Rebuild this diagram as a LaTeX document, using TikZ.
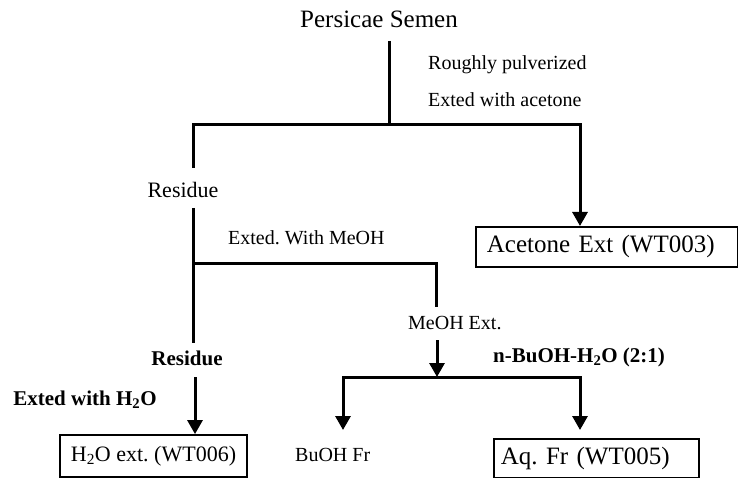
\documentclass[tikz,border=0pt]{standalone}
\usepackage{fontspec}
\setmainfont{Liberation Serif}
\usetikzlibrary{arrows.meta}
\frenchspacing
\begin{document}
\begin{tikzpicture}[x=1pt,y=-1pt,
  line/.style={line width=3pt},
  arr/.style={line width=3pt,-{Triangle[width=15pt,length=14pt]}},
  lbl/.style={inner sep=0pt,font=\fontsize{20}{24}\selectfont},
  blbl/.style={inner sep=0pt,font=\fontsize{21}{25}\selectfont\bfseries},
  boxnode/.style={draw,line width=1.8pt,inner sep=0pt}]
\useasboundingbox (0,0) rectangle (738,478);

% top
\node[inner sep=0pt,font=\fontsize{25}{30}\selectfont] (title) at (379,19) {Persicae Semen};
\coordinate (t0) at (389,41);
\coordinate (j1) at (389,125);
\coordinate (l1) at (193,125);
\coordinate (r1) at (580,125);
\node[lbl,anchor=west] (rp) at (428,65) {Roughly pulverized};
\node[lbl,anchor=west] (ea) at (428,100) {Exted with acetone};
\draw[line] (t0) -- (j1);
\draw[line,line cap=rect] (l1) -- (r1);

% acetone box
\node[boxnode,anchor=north west,minimum width=262pt,minimum height=40pt,
      text width=240pt,inner xsep=11pt,align=left,
      font=\fontsize{25}{30}\selectfont] (ace) at (475,226) {Acetone Ext (WT003)};
\draw[arr] (r1) -- (ace.north -| r1);

% residue 1
\node[inner sep=0pt,font=\fontsize{22}{26}\selectfont] (res1) at (183,190) {Residue};
\coordinate (l1b) at (193,168);
\coordinate (l2a) at (193,208);
\coordinate (l2b) at (193,343);
\draw[line] (l1) -- (l1b);
\draw[line] (l2a) -- (l2b);
\node[lbl,anchor=west] (em) at (228,238) {Exted. With MeOH};

% MeOH branch
\coordinate (j2) at (193,263);
\coordinate (m1) at (436,263);
\coordinate (m2) at (436,307);
\draw[line,line cap=rect] (j2) -- (m1);
\draw[line] (m1) -- (m2);
\node[lbl,anchor=west] (meoh) at (408,323) {MeOH Ext.};
\coordinate (ma) at (437,340);
\coordinate (j3) at (437,377);
\draw[arr] (ma) -- (j3);

% residue 2 and water extract
\node[blbl] (res2) at (187,358) {Residue};
\node[blbl] (ewh) at (85,400) {Exted with H\textsubscript{2}O};
\node[boxnode,minimum width=187pt,minimum height=42pt,
      font=\fontsize{22}{26}\selectfont] (h2o) at (153.5,456) {H\textsubscript{2}O ext. (WT006)};
\coordinate (ra) at (195,377);
\draw[arr] (ra) -- (h2o.north -| ra);

% butanol partition
\node[blbl,anchor=west] (bu) at (493,357) {n-BuOH-H\textsubscript{2}O (2:1)};
\coordinate (l3) at (343,377);
\coordinate (r3) at (580,377);
\draw[line,line cap=rect] (l3) -- (r3);
\node[lbl,anchor=west] (bfr) at (295,455) {BuOH Fr};
\coordinate (bt) at (343,430);
\draw[arr] (l3) -- (bt);
\node[boxnode,anchor=north west,minimum width=205pt,minimum height=39pt,
      text width=191pt,inner xsep=7pt,align=left,
      font=\fontsize{25}{30}\selectfont] (aq) at (493,438) {Aq. Fr (WT005)};
\coordinate (at) at (580,430);
\draw[arr] (r3) -- (at);
\end{tikzpicture}
\end{document}
